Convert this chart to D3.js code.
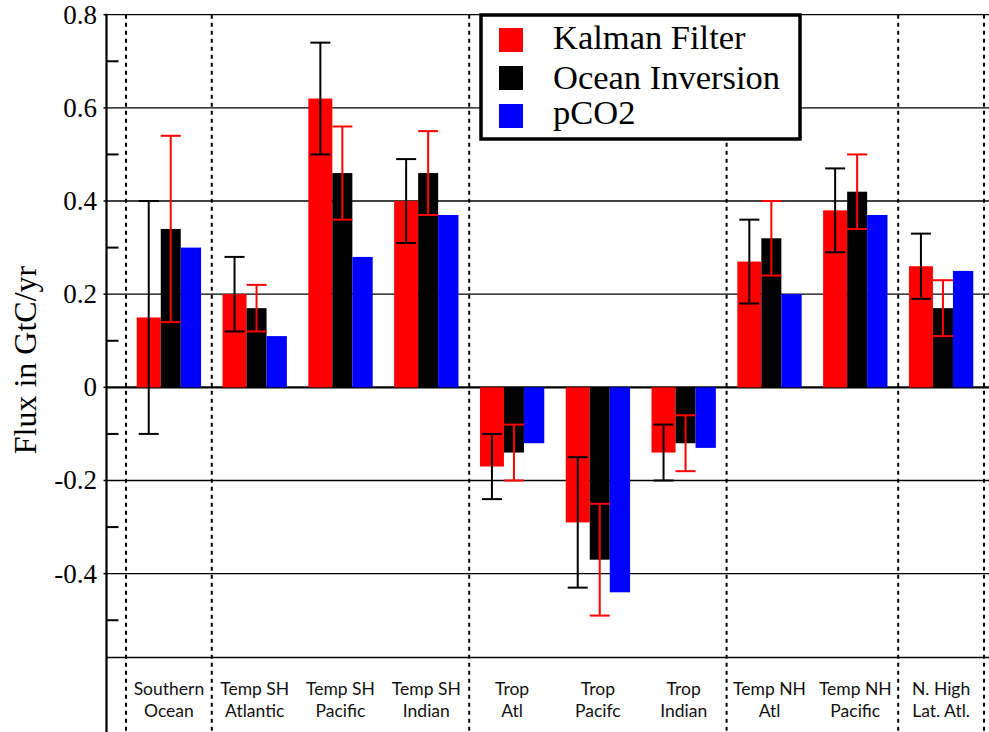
<!DOCTYPE html>
<html>
<head>
<meta charset="utf-8">
<script src="https://cdn.jsdelivr.net/npm/d3@7"></script>
<style>
  html, body { margin: 0; padding: 0; background: #fff; }
  svg { display: block; }
</style>
</head>
<body>
<svg id="chart" width="989" height="732"></svg>
<script>
// Regional air-sea CO2 flux estimates (GtC/yr)
const categories = [
  ["Southern", "Ocean"],
  ["Temp SH", "Atlantic"],
  ["Temp SH", "Pacific"],
  ["Temp SH", "Indian"],
  ["Trop", "Atl"],
  ["Trop", "Pacifc"],
  ["Trop", "Indian"],
  ["Temp NH", "Atl"],
  ["Temp NH", "Pacific"],
  ["N. High", "Lat. Atl."]
];
const seriesNames = ["Kalman Filter", "Ocean Inversion", "pCO2"];
const kalman       = [0.15, 0.20, 0.62, 0.40, -0.17, -0.29, -0.14, 0.27, 0.38, 0.26];
const kalmanErr    = [0.25, 0.08, 0.12, 0.09,  0.07,  0.14,  0.06, 0.09, 0.09, 0.07];
const inversion    = [0.34, 0.17, 0.46, 0.46, -0.14, -0.37, -0.12, 0.32, 0.42, 0.17];
const inversionErr = [0.20, 0.05, 0.10, 0.09,  0.06,  0.12,  0.06, 0.08, 0.08, 0.06];
const pco2         = [0.30, 0.11, 0.28, 0.37, -0.12, -0.44, -0.13, 0.20, 0.37, 0.25];
const majorTicks = [0.8, 0.6, 0.4, 0.2, 0, -0.2, -0.4];
const tickLabels = ["0.8", "0.6", "0.4", "0.2", "0", "-0.2", "-0.4"];
const minorTicks = [0.7, 0.5, 0.3, 0.1, -0.1, -0.3, -0.5];
const yDomain = [-0.58, 0.8];
// band boundaries (by index) where region groups are separated
const separators = [0, 1, 4, 7, 9, 10];

const colors = ["#ff0000", "#000000", "#0000ff"];
const errColors = ["#000000", "#ff0000"];
const serif = "Liberation Serif, DejaVu Serif, serif";
const sans = "Lato, Open Sans, sans-serif";

const svg = d3.select("#chart");
const W = 989, H = 732;
const axisX = 106.5;
const plotTop = 14.7, plotBottom = 657.5;

const y = d3.scaleLinear().domain(yDomain).range([plotBottom, plotTop]);
const x = d3.scaleBand().domain(d3.range(categories.length)).range([126, 984]).padding(0);
const bw = x.bandwidth();

// bar placement inside each band (fraction of band width)
const barOffset = [0.125, 0.405, 0.638];
const barWidth  = [0.280, 0.233, 0.237];

// horizontal grid at major ticks
svg.append("g").selectAll("line").data(majorTicks).join("line")
  .attr("x1", axisX).attr("x2", W)
  .attr("y1", d => y(d)).attr("y2", d => y(d))
  .attr("stroke", "#000")
  .attr("stroke-width", d => d === 0 ? 2.2 : 1.3);

// bottom frame line
svg.append("line")
  .attr("x1", axisX).attr("x2", W)
  .attr("y1", plotBottom).attr("y2", plotBottom)
  .attr("stroke", "#000").attr("stroke-width", 1.5);

// dotted separators between region groups
svg.append("g").selectAll("line").data(separators).join("line")
  .attr("x1", d => d < categories.length ? x(d) : x(categories.length - 1) + bw)
  .attr("x2", d => d < categories.length ? x(d) : x(categories.length - 1) + bw)
  .attr("y1", plotTop).attr("y2", H)
  .attr("stroke", "#000").attr("stroke-width", 2)
  .attr("stroke-dasharray", "4,4");

// bars
const seriesVals = [kalman, inversion, pco2];
seriesVals.forEach((vals, s) => {
  svg.append("g").selectAll("rect").data(vals).join("rect")
    .attr("x", (d, i) => x(i) + bw * barOffset[s])
    .attr("width", bw * barWidth[s])
    .attr("y", d => y(Math.max(0, d)))
    .attr("height", d => Math.abs(y(d) - y(0)))
    .attr("fill", colors[s]);
});

// error bars: Kalman (black) and Ocean Inversion (red)
const errSets = [[kalman, kalmanErr], [inversion, inversionErr]];
errSets.forEach(([vals, errs], s) => {
  const g = svg.append("g").attr("stroke", errColors[s]).attr("stroke-width", 2);
  vals.forEach((v, i) => {
    const cx = x(i) + bw * (barOffset[s] + barWidth[s] / 2);
    const hi = y(v + errs[i]), lo = y(v - errs[i]);
    g.append("line").attr("x1", cx).attr("x2", cx).attr("y1", hi).attr("y2", lo);
    g.append("line").attr("x1", cx - 10).attr("x2", cx + 10).attr("y1", hi).attr("y2", hi);
    g.append("line").attr("x1", cx - 10).attr("x2", cx + 10).attr("y1", lo).attr("y2", lo);
  });
});

// y axis line
svg.append("line")
  .attr("x1", axisX).attr("x2", axisX)
  .attr("y1", plotTop - 1).attr("y2", H)
  .attr("stroke", "#000").attr("stroke-width", 2.2);

// minor ticks
svg.append("g").selectAll("line").data(minorTicks).join("line")
  .attr("x1", axisX).attr("x2", axisX + 12)
  .attr("y1", d => y(d)).attr("y2", d => y(d))
  .attr("stroke", "#000").attr("stroke-width", 2);

// major tick stubs left of axis
svg.append("g").selectAll("line").data(majorTicks).join("line")
  .attr("x1", axisX - 3).attr("x2", axisX)
  .attr("y1", d => y(d)).attr("y2", d => y(d))
  .attr("stroke", "#000").attr("stroke-width", 1.5);

// tick labels
svg.append("g").selectAll("text").data(majorTicks).join("text")
  .attr("x", 97).attr("y", d => y(d) + 9)
  .attr("text-anchor", "end")
  .attr("font-family", serif).attr("font-size", 27)
  .text((d, i) => tickLabels[i]);

// y axis title
svg.append("text")
  .attr("transform", "translate(36,360) rotate(-90)")
  .attr("text-anchor", "middle")
  .attr("font-family", serif).attr("font-size", 32)
  .text("Flux in GtC/yr");

// category labels
const lab = svg.append("g").attr("font-family", sans).attr("font-size", 17.5)
  .attr("text-anchor", "middle").attr("fill", "#111");
categories.forEach((lines, i) => {
  const t = lab.append("text").attr("x", x(i) + bw / 2);
  lines.forEach((ln, k) => {
    t.append("tspan").attr("x", x(i) + bw / 2).attr("y", 695 + k * 22).text(ln);
  });
});

// legend
const leg = svg.append("g");
leg.append("rect")
  .attr("x", 481).attr("y", 15).attr("width", 319).attr("height", 124)
  .attr("fill", "#fff").attr("stroke", "#000").attr("stroke-width", 3.5);
const legY = [28, 66, 104];
const legBase = [49, 89, 124];
seriesNames.forEach((name, s) => {
  leg.append("rect").attr("x", 499).attr("y", legY[s])
    .attr("width", 24).attr("height", 24).attr("fill", colors[s]);
  leg.append("text").attr("x", 553).attr("y", legBase[s])
    .attr("font-family", serif).attr("font-size", 34.5)
    .text(name);
});
</script>
</body>
</html>
